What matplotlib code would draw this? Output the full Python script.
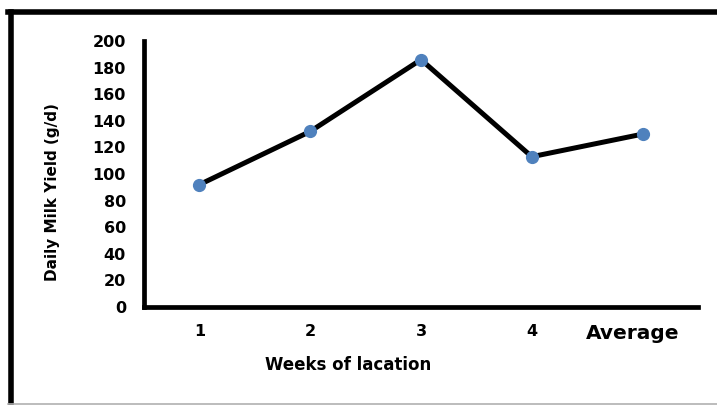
import matplotlib
matplotlib.use('Agg')
import matplotlib.pyplot as plt
import matplotlib.transforms as mtransforms
from matplotlib.lines import Line2D

plt.rcParams['font.family'] = ['DejaVu Sans']
plt.rcParams['font.weight'] = 'bold'

weeks = ['1', '2', '3', '4', 'Average']
milk_yield = [92, 132, 186, 113, 130]
y_ticks = [0, 20, 40, 60, 80, 100, 120, 140, 160, 180, 200]

W, H = 717, 405
fig = plt.figure(figsize=(W / 100, H / 100), dpi=100)
ax = fig.add_axes([144 / W, 1 - 307 / H, (698 - 144) / W, (307 - 41) / H])

x = list(range(len(weeks)))
ax.plot(x, milk_yield, color='black', linewidth=3.6, zorder=2, clip_on=False)
ax.plot(x, milk_yield, 'o', color='#4F81BD', markersize=8.5, zorder=3, clip_on=False)

ax.set_xlim(-0.5, 4.5)
ax.set_ylim(0, 200)
ax.set_yticks(y_ticks)
ax.set_yticklabels([str(v) for v in y_ticks], fontsize=11.5, fontweight='bold')
ax.set_xticks(x)
ax.set_xticklabels(weeks, fontsize=11.5, fontweight='bold')
ax.tick_params(axis='y', length=0, pad=13)
ax.tick_params(axis='x', length=0, pad=12)

# the "Average" label is bigger and sits a bit left of its point
avg = ax.get_xticklabels()[-1]
avg.set_fontsize(14.5)
avg.set_transform(avg.get_transform() +
                  mtransforms.ScaledTranslation(-10 / 100, 0, fig.dpi_scale_trans))

for s in ['top', 'right']:
    ax.spines[s].set_visible(False)
for s in ['left', 'bottom']:
    ax.spines[s].set_linewidth(3.4)
    ax.spines[s].set_capstyle('projecting')

fig.text(53 / W, 1 - 192 / H, 'Daily Milk Yield (g/d)', rotation=90,
         ha='center', va='center', fontsize=11, fontweight='bold')
fig.text(348 / W, 1 - 365 / H, 'Weeks of lacation',
         ha='center', va='center', fontsize=12, fontweight='bold')

# outer frame
fig.add_artist(Line2D([10.5 / W, 10.5 / W], [1 - 11.5 / H, 1 - 404 / H],
                      color='black', linewidth=4, transform=fig.transFigure))
fig.add_artist(Line2D([8 / W, 1], [1 - 11.5 / H, 1 - 11.5 / H],
                      color='black', linewidth=4, transform=fig.transFigure))
fig.add_artist(Line2D([8 / W, 1], [1 - 403.5 / H, 1 - 403.5 / H],
                      color='#b0b0b0', linewidth=1.2, transform=fig.transFigure))

fig.savefig('out.png', dpi=100)
